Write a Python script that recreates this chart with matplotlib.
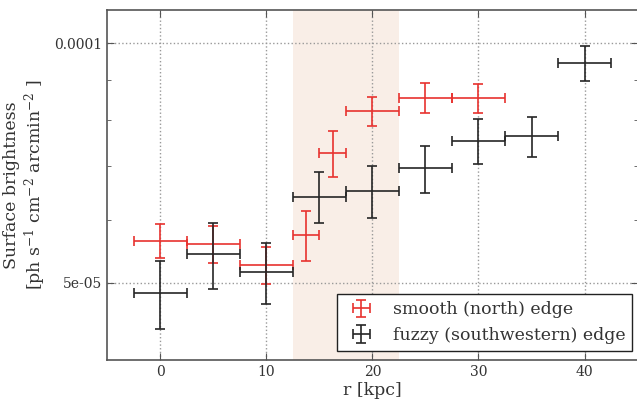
import matplotlib
matplotlib.use("Agg")
import matplotlib.pyplot as plt
from matplotlib.ticker import NullFormatter

# smooth (north) edge
r_smooth = [0, 5, 10, 13.75, 16.25, 20, 25, 30]
rerr_smooth = [2.5, 2.5, 2.5, 1.25, 1.25, 2.5, 2.5, 2.5]
sb_smooth = [5.65e-5, 5.60e-5, 5.27e-5, 5.74e-5, 7.27e-5, 8.21e-5, 8.54e-5, 8.53e-5]
sberr_smooth = [0.28e-5, 0.30e-5, 0.28e-5, 0.41e-5, 0.48e-5, 0.35e-5, 0.36e-5, 0.36e-5]

# fuzzy (southwestern) edge
r_fuzzy = [0, 5, 10, 15, 20, 25, 30, 35, 40]
rerr_fuzzy = [2.5] * 9
sb_fuzzy = [4.85e-5, 5.43e-5, 5.16e-5, 6.41e-5, 6.52e-5, 6.96e-5, 7.54e-5, 7.64e-5, 9.43e-5]
sberr_fuzzy = [0.47e-5, 0.52e-5, 0.45e-5, 0.47e-5, 0.49e-5, 0.47e-5, 0.49e-5, 0.44e-5, 0.48e-5]

shade = (12.5, 22.5)

plt.rcParams["font.family"] = "DejaVu Serif"
plt.rcParams["mathtext.fontset"] = "dejavuserif"

fig = plt.figure(figsize=(6.37, 4.05), dpi=100)
ax = fig.add_axes([0.168, 0.111, 0.833, 0.864])

ax.axvspan(*shade, color="#f9eee7", lw=0, zorder=0)
ax.errorbar(r_smooth, sb_smooth, xerr=rerr_smooth, yerr=sberr_smooth, fmt="none",
            ecolor="#e8322f", elinewidth=1.2, capsize=3.5, capthick=1.2,
            label="smooth (north) edge", zorder=3)
ax.errorbar(r_fuzzy, sb_fuzzy, xerr=rerr_fuzzy, yerr=sberr_fuzzy, fmt="none",
            ecolor="#262626", elinewidth=1.2, capsize=3.5, capthick=1.2,
            label="fuzzy (southwestern) edge", zorder=3)

ax.set_yscale("log")
ax.set_xlim(-5, 45)
ax.set_ylim(4.0e-5, 1.1e-4)
ax.set_xticks([0, 10, 20, 30, 40])
ax.set_yticks([5e-5, 1e-4])
ax.set_yticklabels(["5e-05", "0.0001"])
ax.set_yticks([6e-5, 7e-5, 8e-5, 9e-5], minor=True)
ax.yaxis.set_minor_formatter(NullFormatter())
ax.tick_params(which="both", direction="in", top=True, right=True, labelsize=10,
               color="#555555", labelcolor="#333333")
ax.tick_params(which="major", length=5)
ax.tick_params(which="minor", length=3)
ax.grid(True, which="major", ls=":", color="#999999", lw=1)
for s in ax.spines.values():
    s.set_color("#555555")
    s.set_linewidth(1.2)

ax.set_xlabel("r [kpc]", fontsize=12.5, color="#333333", labelpad=2)
ax.set_ylabel("Surface brightness\n[ph s$^{-1}$ cm$^{-2}$ arcmin$^{-2}$ ]",
              fontsize=12.5, color="#333333")
leg = ax.legend(loc="lower right", bbox_to_anchor=(0.9896, 0.0257), borderaxespad=0,
                fontsize=12.5, fancybox=False, framealpha=1, edgecolor="#222222",
                handlelength=2.0)
leg.get_frame().set_linewidth(1.0)
for t in leg.get_texts():
    t.set_color("#333333")

fig.savefig("out.png", dpi=100)
